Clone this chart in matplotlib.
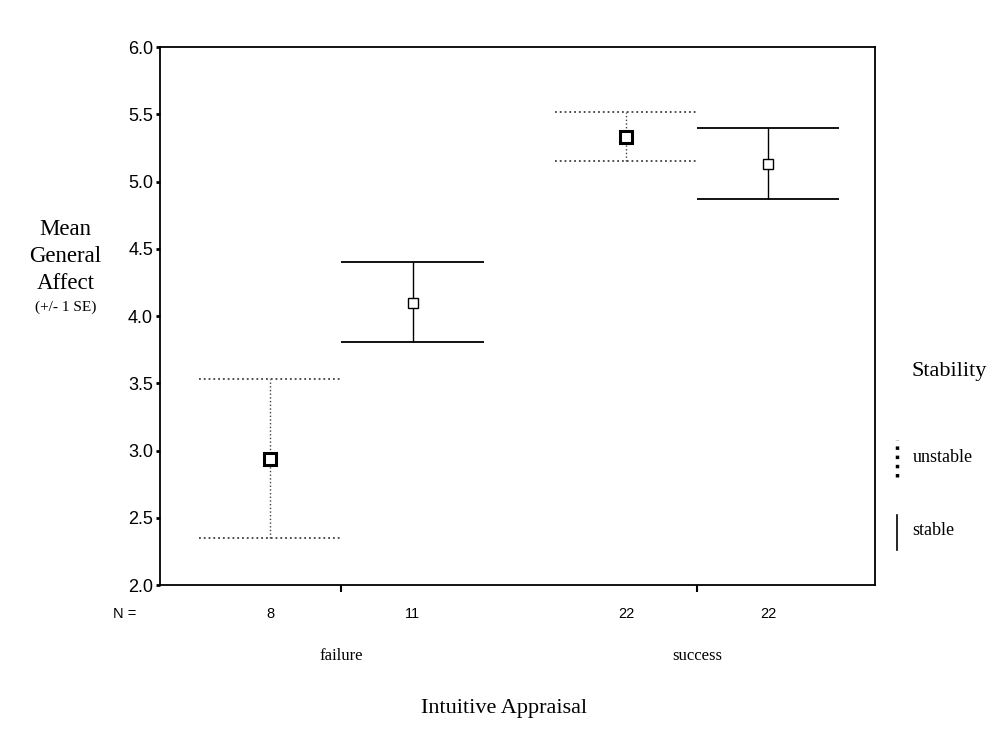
import numpy as np
import matplotlib
matplotlib.use('Agg')
import matplotlib.pyplot as plt
from matplotlib.lines import Line2D
import matplotlib.transforms as mtransforms

# data
categories = ['failure', 'success']
unstable_mean = [2.94, 5.33]
unstable_lo = [2.35, 5.15]
unstable_hi = [3.53, 5.52]
unstable_n = [8, 22]
stable_mean = [4.10, 5.13]
stable_lo = [3.81, 4.87]
stable_hi = [4.40, 5.40]
stable_n = [11, 22]
yticks = [2.0, 2.5, 3.0, 3.5, 4.0, 4.5, 5.0, 5.5, 6.0]

serif = 'Liberation Serif'
sans = 'Liberation Sans'

fig = plt.figure(figsize=(10.07, 7.29), dpi=100)
ax = fig.add_axes([0.1589, 0.1975, 0.71, 0.738])

x = np.arange(len(categories))
off = 0.2
half = 0.2

def draw_group(xs, mean, lo, hi, ls, color, ms, mew):
    ax.vlines(xs, lo, hi, colors=color, linestyles=ls, lw=1.0)
    ax.hlines(lo, xs - half, xs + half, colors=color, linestyles=ls, lw=1.3)
    ax.hlines(hi, xs - half, xs + half, colors=color, linestyles=ls, lw=1.3)
    ax.plot(xs, mean, ls='none', marker='s', ms=ms, mfc='white',
            mec='black', mew=mew, zorder=3)

draw_group(x - off, unstable_mean, unstable_lo, unstable_hi, ':', '0.25', 9, 2.2)
draw_group(x + off, stable_mean, stable_lo, stable_hi, '-', 'black', 7, 1.0)

ax.set_xlim(-0.51, 1.5)
ax.set_ylim(2.0, 6.0)
ax.set_yticks(yticks)
ax.set_yticklabels(['%.1f' % t for t in yticks], fontsize=13, family=sans)
ax.tick_params(axis='y', direction='out', length=3, width=2, pad=2)
ax.set_xticks(x)
ax.set_xticklabels(categories, fontsize=12, family=serif)
ax.tick_params(axis='x', direction='out', length=5, width=1.5, pad=40)
for s in ax.spines.values():
    s.set_linewidth(1.3)

# N row
trans = mtransforms.blended_transform_factory(ax.transData, ax.transAxes)
ax.text(-0.61, -0.04, 'N =', transform=trans, ha='center', va='top', fontsize=10.5, family=sans)
for xs, n in zip(x - off, unstable_n):
    ax.text(xs, -0.04, str(n), transform=trans, ha='center', va='top', fontsize=10.5, family=sans)
for xs, n in zip(x + off, stable_n):
    ax.text(xs, -0.04, str(n), transform=trans, ha='center', va='top', fontsize=10.5, family=sans)

fig.text(0.501, 0.028, 'Intuitive Appraisal', ha='center', va='center', fontsize=16, family=serif)

# y label
fig.text(0.065, 0.685, 'Mean', ha='center', va='center', fontsize=16.5, family=serif)
fig.text(0.065, 0.648, 'General', ha='center', va='center', fontsize=16.5, family=serif)
fig.text(0.065, 0.611, 'Affect', ha='center', va='center', fontsize=16.5, family=serif)
fig.text(0.065, 0.578, '(+/- 1 SE)', ha='center', va='center', fontsize=11, family=serif)

# legend
fig.text(0.905, 0.49, 'Stability', ha='left', va='center', fontsize=16, family=serif)
fig.add_artist(Line2D([0.891, 0.891], [0.345, 0.396], transform=fig.transFigure,
                      color='black', ls=':', lw=2.5))
fig.text(0.906, 0.373, 'unstable', ha='left', va='center', fontsize=13, family=serif)
fig.add_artist(Line2D([0.891, 0.891], [0.245, 0.293], transform=fig.transFigure,
                      color='black', ls='-', lw=1.2))
fig.text(0.906, 0.272, 'stable', ha='left', va='center', fontsize=13, family=serif)

fig.savefig('out.png', dpi=100)
